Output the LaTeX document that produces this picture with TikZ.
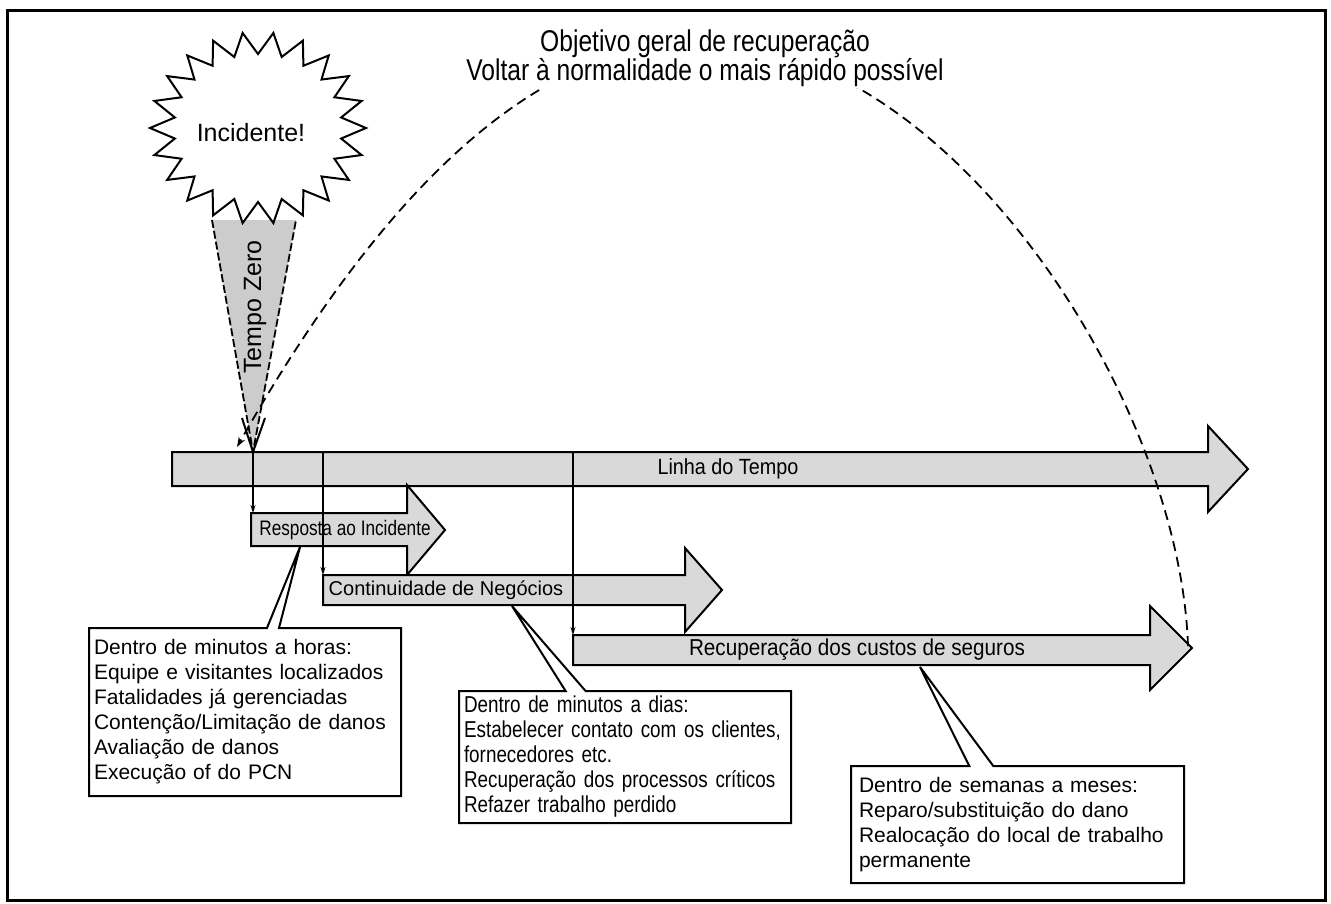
\documentclass[tikz,border=0pt]{standalone}
\usepackage{fontspec}
\setmainfont{Liberation Sans}
\newfontfamily\condfont{Liberation Sans}[FakeStretch=0.9]
\newfontfamily\narrowfont{Liberation Sans}[FakeStretch=0.82]
\usetikzlibrary{arrows.meta,shapes.callouts}

\begin{document}
\begin{tikzpicture}[x=1pt,y=-1pt,
  bar/.style={draw=black, fill=black!15, line width=2pt, line join=miter},
  down/.style={line width=1.6pt, -{Stealth[length=8pt,width=5pt]}},
  goal/.style={line width=1.8pt, dash pattern=on 10pt off 6pt},
  note/.style={rectangle callout, draw=black, fill=white, line width=2pt, align=left, anchor=north west, font=\fontsize{21}{25}\selectfont}]
\useasboundingbox (0,0) rectangle (1331,903);
\draw[line width=3pt] (7,10) rectangle (1325,900);

\coordinate (t0) at (253,452);
\fill[black!20] (212,220) -- (296,220) -- (t0) -- cycle;
\draw[line width=1.8pt, dash pattern=on 8pt off 3pt] (212,220) -- (t0) -- (296,220);
\draw[line width=2pt] (242,418) -- (t0) -- (265,418);

\draw[line width=2pt, fill=white] (366,128) \foreach \i in {1,...,22} {-- ({258+84*cos((\i-0.5)*360/22)},{128+74*sin((\i-0.5)*360/22)}) -- ({258+108*cos(\i*360/22)},{128+96*sin(\i*360/22)})} -- cycle;
\node[font=\fontsize{25}{30}\selectfont] (inc) at (251,133) {Incidente!};
\node[rotate=90, font=\fontsize{25}{30}\selectfont] (zero) at (255,307) {Tempo Zero};

\draw[bar] (172,452) -- (1208,452) -- (1208,426) -- (1248,469) -- (1208,512) -- (1208,486) -- (172,486) -- cycle;
\draw[bar] (251,513) -- (407,513) -- (407,485) -- (445,530) -- (407,575) -- (407,546) -- (251,546) -- cycle;
\draw[bar] (323,575) -- (685,575) -- (685,548) -- (722,590) -- (685,632) -- (685,605) -- (323,605) -- cycle;
\draw[bar] (573,635) -- (1150,635) -- (1150,606) -- (1192,648) -- (1150,690) -- (1150,665) -- (573,665) -- cycle;

\node[font=\condfont\fontsize{22}{26}\selectfont] (linha) at (728,469) {Linha do Tempo};
\node[font=\narrowfont\fontsize{21}{25}\selectfont] (resp) at (345,530) {Resposta ao Incidente};
\node[font=\fontsize{20}{24}\selectfont] (cont) at (446,590) {Continuidade de Negócios};
\node[font=\condfont\fontsize{23}{27}\selectfont] (rec) at (857,650) {Recuperação dos custos de seguros};

\coordinate (resptop) at (253,513);
\coordinate (c0) at (323,452);
\coordinate (conttop) at (323,575);
\coordinate (s0) at (573,452);
\coordinate (rectop) at (573,635);
\draw[down] (t0) -- (resptop);
\draw[down] (c0) -- (conttop);
\draw[down] (s0) -- (rectop);

\coordinate (rectip) at (1188,646);
\coordinate (arcend) at (237,447);
\draw[goal, -{Stealth[length=10pt,width=7pt]}] (rectip) .. controls (1180,400) and (950,42) .. (700,42) .. controls (545,42) and (391,175) .. (arcend);

\node[fill=white, inner sep=1pt, align=center, font=\narrowfont\fontsize{30}{28}\selectfont] (goal) at (705,58) {Objetivo geral de recuperação\\Voltar à normalidade o mais rápido possível};

\coordinate (p1) at (300,547);
\coordinate (p2) at (512,606);
\coordinate (p3) at (920,667);
\node[note, callout absolute pointer={(p1)}, callout pointer width=12pt, text width=302pt, minimum height=168pt, inner sep=5pt] (n1) at (88,627) {Dentro de minutos a horas:\\Equipe e visitantes localizados\\Fatalidades já gerenciadas\\Contenção/Limitação de danos\\Avaliação de danos\\Execução of do PCN};
\node[note, callout absolute pointer={(p2)}, callout pointer width=20pt, text width=322pt, minimum height=132pt, inner sep=5pt, font=\narrowfont\fontsize{23}{25}\selectfont] (n2) at (458,690) {Dentro de minutos a dias:\\Estabelecer contato com os clientes,\\fornecedores etc.\\Recuperação dos processos críticos\\Refazer trabalho perdido};
\node[note, callout absolute pointer={(p3)}, callout pointer width=24pt, text width=317pt, minimum height=117pt, inner xsep=8pt, inner ysep=5pt] (n3) at (850,765) {Dentro de semanas a meses:\\Reparo/substituição do dano\\Realocação do local de trabalho\\permanente};
\end{tikzpicture}
\end{document}
